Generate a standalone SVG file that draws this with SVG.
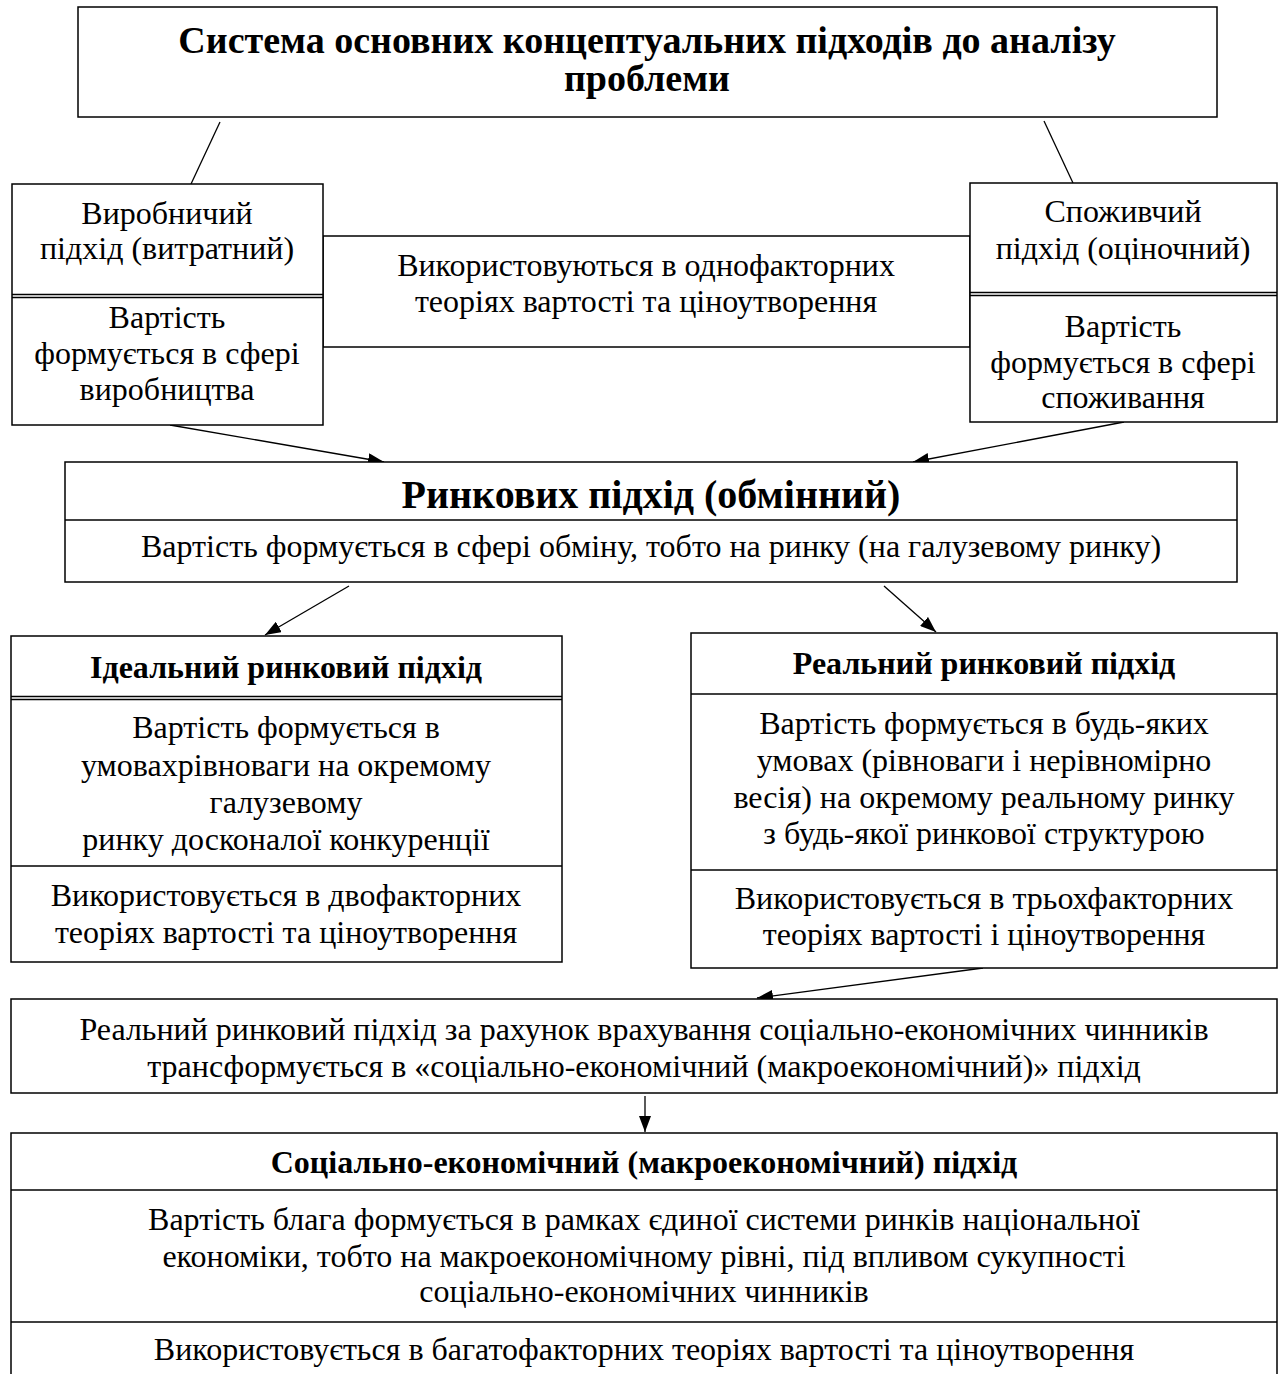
<svg xmlns="http://www.w3.org/2000/svg" width="1279" height="1374" viewBox="0 0 1279 1374">
<defs>
<marker id="ah" markerUnits="userSpaceOnUse" markerWidth="18" markerHeight="12" refX="16" refY="6" orient="auto">
<path d="M0,0 L16,6 L0,12 Z" fill="#000"/>
</marker>
<style>
.box{fill:#fff;stroke:#000;stroke-width:1.5}
.ln{fill:none;stroke:#000;stroke-width:1.5}
.t{font-family:"Liberation Serif","Times New Roman",serif;font-size:32px;fill:#000;text-anchor:middle}
.b{font-weight:bold}
.con{stroke:#000;stroke-width:1.3;fill:none}
.arr{marker-end:url(#ah)}
</style>
</defs>
<rect x="0" y="0" width="1279" height="1374" style="fill:#fff;stroke:none"/>

<g id="connectors">
<line class="con" x1="220" y1="122" x2="191" y2="184"/>
<line class="con" x1="1044" y1="121" x2="1073" y2="183"/>
<line class="con arr" x1="170" y1="425" x2="384" y2="462"/>
<line class="con arr" x1="1124" y1="422" x2="913" y2="462"/>
<line class="con arr" x1="349" y1="586" x2="265" y2="635"/>
<line class="con arr" x1="884" y1="586" x2="936" y2="632"/>
<line class="con arr" x1="983" y1="968" x2="757" y2="998"/>
<line class="con arr" x1="645" y1="1096" x2="645" y2="1132"/>
</g>

<g id="n-title">
<rect class="box" x="78" y="7" width="1139" height="110"/>
<text class="t b" x="647" y="53" style="font-size:38px">Система основних концептуальних підходів до аналізу</text>
<text class="t b" x="647" y="91" style="font-size:38px">проблеми</text>
</g>

<g id="n-middle">
<rect class="box" x="323" y="236" width="647" height="111"/>
<text class="t" x="646" y="276">Використовуються в однофакторних</text>
<text class="t" x="646" y="312">теоріях вартості та ціноутворення</text>
</g>

<g id="n-producer">
<rect class="box" x="12" y="184" width="311" height="241"/>
<line class="ln" x1="12" y1="294.5" x2="323" y2="294.5"/>
<line class="ln" x1="12" y1="297.5" x2="323" y2="297.5"/>
<text class="t" x="167" y="224">Виробничий</text>
<text class="t" x="167" y="259">підхід (витратний)</text>
<text class="t" x="167" y="328">Вартість</text>
<text class="t" x="167" y="364">формується в сфері</text>
<text class="t" x="167" y="400">виробництва</text>
</g>

<g id="n-consumer">
<rect class="box" x="970" y="183" width="307" height="239"/>
<line class="ln" x1="970" y1="292.5" x2="1277" y2="292.5"/>
<line class="ln" x1="970" y1="295.5" x2="1277" y2="295.5"/>
<text class="t" x="1123" y="222">Споживчий</text>
<text class="t" x="1123" y="259">підхід (оціночний)</text>
<text class="t" x="1123" y="337">Вартість</text>
<text class="t" x="1123" y="373">формується в сфері</text>
<text class="t" x="1123" y="408">споживання</text>
</g>

<g id="n-market">
<rect class="box" x="65" y="462" width="1172" height="120"/>
<line class="ln" x1="65" y1="520" x2="1237" y2="520"/>
<text class="t b" x="651" y="508" style="font-size:40px">Ринкових підхід (обмінний)</text>
<text class="t" x="651" y="557">Вартість формується в сфері обміну, тобто на ринку (на галузевому ринку)</text>
</g>

<g id="n-ideal">
<rect class="box" x="11" y="636" width="551" height="326"/>
<line class="ln" x1="11" y1="696.5" x2="562" y2="696.5"/>
<line class="ln" x1="11" y1="699.5" x2="562" y2="699.5"/>
<line class="ln" x1="11" y1="866" x2="562" y2="866"/>
<text class="t b" x="286" y="678">Ідеальний ринковий підхід</text>
<text class="t" x="286" y="738">Вартість формується в</text>
<text class="t" x="286" y="776">умовахрівноваги на окремому</text>
<text class="t" x="286" y="813">галузевому</text>
<text class="t" x="286" y="850">ринку досконалої конкуренції</text>
<text class="t" x="286" y="906">Використовується в двофакторних</text>
<text class="t" x="286" y="943">теоріях вартості та ціноутворення</text>
</g>

<g id="n-real">
<rect class="box" x="691" y="633" width="586" height="335"/>
<line class="ln" x1="691" y1="694" x2="1277" y2="694"/>
<line class="ln" x1="691" y1="870" x2="1277" y2="870"/>
<text class="t b" x="984" y="674">Реальний ринковий підхід</text>
<text class="t" x="984" y="734">Вартість формується в будь-яких</text>
<text class="t" x="984" y="771">умовах (рівноваги і нерівномірно</text>
<text class="t" x="984" y="808">весія) на окремому реальному ринку</text>
<text class="t" x="984" y="844">з будь-якої ринкової структурою</text>
<text class="t" x="984" y="909">Використовується в трьохфакторних</text>
<text class="t" x="984" y="945">теоріях вартості і ціноутворення</text>
</g>

<g id="n-transform">
<rect class="box" x="11" y="999" width="1266" height="94"/>
<text class="t" x="644" y="1040">Реальний ринковий підхід за рахунок врахування соціально-економічних чинників</text>
<text class="t" x="644" y="1077">трансформується в «соціально-економічний (макроекономічний)» підхід</text>
</g>

<g id="n-socio">
<path class="ln" d="M11,1380 L11,1133 L1277,1133 L1277,1380"/>
<line class="ln" x1="11" y1="1190" x2="1277" y2="1190"/>
<line class="ln" x1="11" y1="1322" x2="1277" y2="1322"/>
<text class="t b" x="644" y="1173">Соціально-економічний (макроекономічний) підхід</text>
<text class="t" x="644" y="1230">Вартість блага формується в рамках єдиної системи ринків національної</text>
<text class="t" x="644" y="1267">економіки, тобто на макроекономічному рівні, під впливом сукупності</text>
<text class="t" x="644" y="1302">соціально-економічних чинників</text>
<text class="t" x="644" y="1360">Використовується в багатофакторних теоріях вартості та ціноутворення</text>
</g>
</svg>
